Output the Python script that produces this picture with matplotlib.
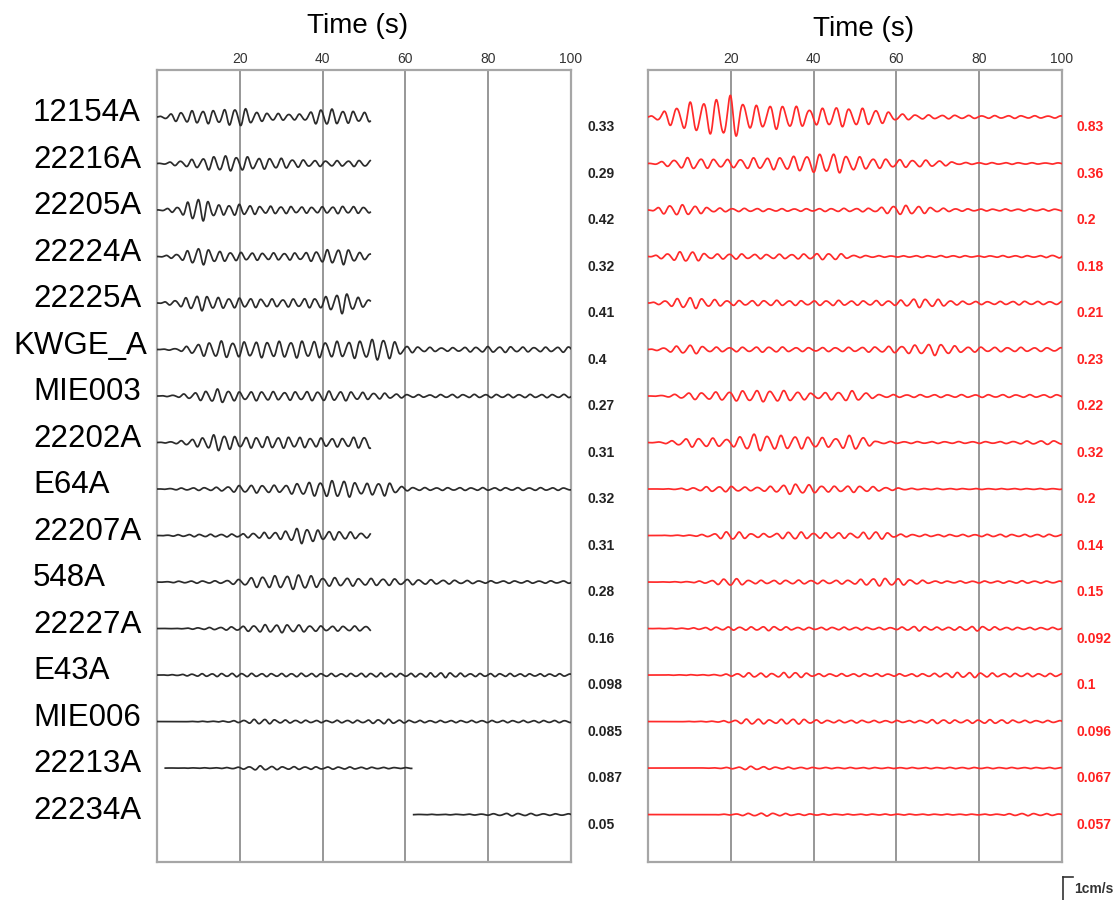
import numpy as np
import matplotlib
matplotlib.use("Agg")
import matplotlib.pyplot as plt

# ---------------- data ----------------
stations = ["12154A", "22216A", "22205A", "22224A", "22225A", "KWGE_A", "MIE003",
            "22202A", "E64A", "22207A", "548A", "22227A", "E43A", "MIE006",
            "22213A", "22234A"]

# peak amplitudes (cm/s) printed beside each trace
left_peak = [0.33, 0.29, 0.42, 0.32, 0.41, 0.4, 0.27, 0.31, 0.32, 0.31, 0.28,
             0.16, 0.098, 0.085, 0.087, 0.05]
right_peak = [0.83, 0.36, 0.2, 0.18, 0.21, 0.23, 0.22, 0.32, 0.2, 0.14, 0.15,
              0.092, 0.1, 0.096, 0.067, 0.057]

# record spans (s) of the observed traces
left_start = [0, 0, 0, 0, 0, 0, 0, 0, 0, 0, 0, 0, 0, 0, 2, 62]
left_end = [51.5, 51.5, 51.5, 51.5, 51.5, 100, 100, 51.5, 100, 51.5, 100, 51.5,
            100, 100, 61.5, 100]

# relative envelopes read every 5 s (from t = 0)
left_env = [
    [0, 0.5, 0.7, 0.7, 1.0, 0.45, 0.35, 0.3, 0.9, 0.7, 0.5],
    [0, 0.3, 0.6, 1.0, 0.9, 0.7, 0.65, 0.45, 0.35, 0.35, 0.4],
    [0, 0.25, 1.0, 0.4, 0.45, 0.3, 0.3, 0.25, 0.25, 0.3, 0.25],
    [0, 0.25, 0.9, 0.5, 0.4, 0.35, 0.35, 0.35, 0.6, 0.8, 0.3],
    [0, 0.3, 0.75, 0.5, 0.45, 0.4, 0.35, 0.4, 0.5, 1.0, 0.35],
    [0, 0.1, 0.5, 0.75, 0.65, 0.7, 0.7, 0.75, 0.7, 0.7, 0.8, 1.0, 0.3, 0.2, 0.15,
     0.2, 0.25, 0.25, 0.2, 0.2, 0.25],
    [0, 0.15, 0.5, 0.9, 0.5, 0.6, 0.5, 0.55, 0.6, 0.6, 0.45, 0.35, 0.2, 0.15, 0.2,
     0.2, 0.2, 0.2, 0.2, 0.2, 0.2],
    [0, 0.15, 0.5, 1.0, 0.6, 0.65, 0.65, 0.6, 0.5, 0.5, 0.7],
    [0, 0.1, 0.15, 0.2, 0.4, 0.45, 0.4, 0.7, 0.85, 1.0, 0.6, 0.8, 0.2, 0.15, 0.15,
     0.15, 0.15, 0.15, 0.15, 0.15, 0.12],
    [0, 0.1, 0.15, 0.15, 0.2, 0.35, 0.45, 1.0, 0.55, 0.5, 0.3],
    [0, 0.1, 0.15, 0.15, 0.35, 0.75, 0.8, 1.0, 0.55, 0.55, 0.45, 0.45, 0.35, 0.3,
     0.25, 0.2, 0.15, 0.15, 0.15, 0.15, 0.15],
    [0, 0.05, 0.2, 0.3, 0.5, 0.9, 1.0, 0.85, 0.6, 0.6, 0.6],
    [0, 0.2, 0.5, 0.6, 0.7, 0.6, 0.6, 0.7, 0.6, 0.6, 0.7, 0.8, 0.6, 0.8, 1.0, 0.6,
     0.6, 0.6, 0.5, 0.5, 0.5],
    [0, 0, 0.1, 0.15, 0.4, 1.0, 0.6, 0.5, 0.4, 0.5, 0.5, 0.9, 0.5, 0.4, 0.4, 0.4,
     0.4, 0.4, 0.4, 0.4, 0.4],
    [0, 0.05, 0.1, 0.15, 0.4, 1.0, 0.6, 0.6, 0.5, 0.5, 0.4, 0.3, 0.2],
    [0, 0, 0, 0, 0, 0, 0, 0, 0, 0, 0, 0, 0, 0.2, 0.2, 0.3, 0.5, 1.0, 0.8, 0.6, 0.6],
]
right_env = [
    [0, 0.35, 0.65, 0.75, 1.0, 0.5, 0.55, 0.5, 0.35, 0.45, 0.4, 0.35, 0.15, 0.1,
     0.08, 0.08, 0.06, 0.06, 0.06, 0.05, 0.05],
    [0, 0.3, 0.6, 0.45, 0.4, 0.55, 0.6, 0.7, 0.9, 1.0, 0.7, 0.5, 0.4, 0.35, 0.3,
     0.1, 0.08, 0.08, 0.08, 0.06, 0.06],
    [0, 0.8, 0.8, 0.35, 0.25, 0.25, 0.2, 0.2, 0.2, 0.25, 0.25, 0.3, 0.75, 0.65,
     0.3, 0.2, 0.15, 0.15, 0.15, 0.15, 0.15],
    [0, 0.6, 1.0, 0.4, 0.5, 0.4, 0.4, 0.4, 0.5, 0.6, 0.2, 0.15, 0.1, 0.15, 0.15,
     0.15, 0.1, 0.15, 0.15, 0.15, 0.3],
    [0, 0.5, 1.0, 0.6, 0.4, 0.4, 0.45, 0.4, 0.35, 0.45, 0.35, 0.4, 0.4, 0.75, 0.6,
     0.3, 0.25, 0.25, 0.3, 0.25, 0.25],
    [0, 0.4, 0.8, 0.4, 0.35, 0.4, 0.45, 0.35, 0.3, 0.35, 0.35, 0.45, 0.55, 0.75,
     1.0, 0.5, 0.4, 0.35, 0.35, 0.3, 0.3],
    [0, 0.15, 0.5, 0.55, 0.7, 0.85, 0.85, 0.75, 0.4, 0.6, 0.8, 0.25, 0.2, 0.2, 0.2,
     0.2, 0.2, 0.2, 0.2, 0.2, 0.2],
    [0, 0.15, 0.5, 0.5, 0.4, 1.0, 0.8, 0.75, 0.6, 0.5, 0.9, 0.15, 0.1, 0.1, 0.1,
     0.1, 0.1, 0.1, 0.15, 0.2, 0.2],
    [0, 0.05, 0.2, 0.45, 0.5, 0.3, 0.5, 1.0, 0.7, 0.5, 0.6, 0.4, 0.2, 0.1, 0.1,
     0.08, 0.08, 0.08, 0.08, 0.08, 0.08],
    [0, 0.05, 0.1, 0.25, 0.9, 0.4, 0.35, 0.8, 0.5, 0.6, 0.45, 0.85, 0.3, 0.2, 0.2,
     0.2, 0.2, 0.25, 0.2, 0.25, 0.2],
    [0, 0.05, 0.1, 0.3, 0.8, 0.35, 0.35, 0.4, 0.35, 0.35, 0.45, 0.8, 0.7, 0.4, 0.2,
     0.2, 0.2, 0.2, 0.25, 0.2, 0.2],
    [0, 0.1, 0.2, 0.5, 0.6, 0.6, 0.8, 0.5, 0.4, 0.5, 0.5, 0.4, 0.4, 0.9, 0.5, 0.6,
     0.9, 0.5, 0.4, 0.4, 0.4],
    [0, 0.05, 0.1, 0.1, 0.35, 0.7, 0.5, 0.9, 0.4, 0.4, 0.4, 0.4, 0.35, 0.4, 0.5,
     0.8, 0.7, 0.5, 0.5, 0.45, 0.45],
    [0, 0, 0.05, 0.1, 0.3, 0.85, 0.5, 0.8, 0.5, 0.35, 0.4, 0.3, 0.3, 0.3, 0.6, 0.4,
     0.5, 0.55, 0.35, 0.3, 0.3],
    [0, 0, 0.05, 0.1, 0.4, 1.0, 0.6, 0.45, 0.35, 0.3, 0.3, 0.3, 0.25, 0.3, 0.3,
     0.35, 0.3, 0.3, 0.3, 0.3, 0.3],
    [0, 0, 0, 0.05, 0.3, 0.8, 0.9, 0.5, 0.4, 0.3, 0.25, 0.3, 0.3, 0.25, 0.25, 0.25,
     0.25, 0.3, 0.7, 0.6, 0.4],
]
# dominant periods (s)
left_period = [2.6, 2.7, 2.5, 2.6, 2.6, 2.8, 2.7, 2.6, 2.8, 2.6, 2.9, 2.7, 2.4,
               2.5, 2.7, 3.0]
right_period = [3.2, 3.2, 3.0, 3.0, 3.0, 3.2, 3.3, 3.3, 3.1, 3.0, 3.0, 2.8, 2.8,
                2.8, 3.0, 3.0]

xticks = [20, 40, 60, 80, 100]
xlabel = "Time (s)"
scale_label = "1cm/s"

# ---------------- figure ----------------
W, H = 1120, 900
fig = plt.figure(figsize=(W / 100, H / 100), dpi=100, facecolor="white")

def px_rect(x0, y0, x1, y1):
    return [x0 / W, 1 - y1 / H, (x1 - x0) / W, (y1 - y0) / H]

axL = fig.add_axes(px_rect(157, 70, 571, 862))
axR = fig.add_axes(px_rect(648, 70, 1062, 862))

amp_scale = 0.56  # trace-spacing units per cm/s
n = len(stations)
FONT = ["Liberation Sans", "DejaVu Sans"]

def trace(env, period, phase, t0, t1, peak):
    t = np.arange(t0, t1 + 1e-9, 0.05)
    knots = 5.0 * np.arange(len(env))
    e = np.interp(t, knots, env)
    w = 0.88 * np.sin(2 * np.pi * t / period + phase) + \
        0.12 * np.sin(2 * np.pi * t / (0.62 * period) + 1.7 * phase)
    w = e * w
    m = np.max(np.abs(w))
    if m > 0:
        w = w / m
    return t, w * peak * amp_scale

for ax in (axL, axR):
    ax.set_xlim(0, 100)
    ax.set_ylim(n - 1 + 1.02, -1.01)
    ax.set_facecolor("white")
    for s in ax.spines.values():
        s.set_color("#a6a6a6")
        s.set_linewidth(1.6)
    ax.xaxis.tick_top()
    ax.set_xticks(xticks)
    ax.set_xticklabels([str(v) for v in xticks], fontsize=10, family=FONT,
                       color="#333333")
    ax.tick_params(axis="x", length=0, pad=3)
    ax.set_yticks([])
    for g in xticks[:-1]:
        ax.axvline(g, color="#8f8f8f", lw=1.3, zorder=1)

for i in range(n):
    t, w = trace(left_env[i], left_period[i], 0.9 * i, left_start[i], left_end[i],
                 left_peak[i])
    axL.plot(t, i - w, color="#2b2b2b", lw=1.25, zorder=3)
    axL.text(103.9, i + 0.22, str(left_peak[i]), fontsize=10, fontweight="bold",
             family=FONT, color="#222222", ha="left", va="center", clip_on=False)
    t, w = trace(right_env[i], right_period[i], 1.3 * i + 0.4, 0, 100, right_peak[i])
    axR.plot(t, i - w, color="#ff2a2a", lw=1.25, zorder=3)
    axR.text(103.6, i + 0.22, str(right_peak[i]), fontsize=10, fontweight="bold",
             family=FONT, color="#ff2020", ha="left", va="center", clip_on=False)

# station labels
fig.canvas.draw()
renderer = fig.canvas.get_renderer()
for i, name in enumerate(stations):
    y_disp = axL.transData.transform((0, i - 0.08))[1]
    txt = fig.text(33 / W, y_disp / H, name, fontsize=22.5, family=FONT,
                   color="black", ha="left", va="center")
    wpx = txt.get_window_extent(renderer).width
    if 33 + wpx > 147:
        txt.set_x((147 - wpx) / W)

# axis titles
fig.text(358 / W, 1 - 26 / H, xlabel, fontsize=20, family=FONT,
         ha="center", va="center")
fig.text(864 / W, 1 - 29 / H, xlabel, fontsize=20, family=FONT,
         ha="center", va="center")

# scale bar (1 cm/s)
yb = n - 1 + 1.34
axR.plot([100.3, 100.3], [yb + amp_scale * 1.0, yb], color="#333333", lw=1.2,
         clip_on=False)
axR.plot([100.3, 102.6], [yb, yb], color="#333333", lw=1.2, clip_on=False)
axR.text(103.0, yb + 0.25, scale_label, fontsize=10, fontweight="bold",
         family=FONT, color="#333333", ha="left", va="center", clip_on=False)

fig.savefig("out.png", dpi=100, facecolor="white")
